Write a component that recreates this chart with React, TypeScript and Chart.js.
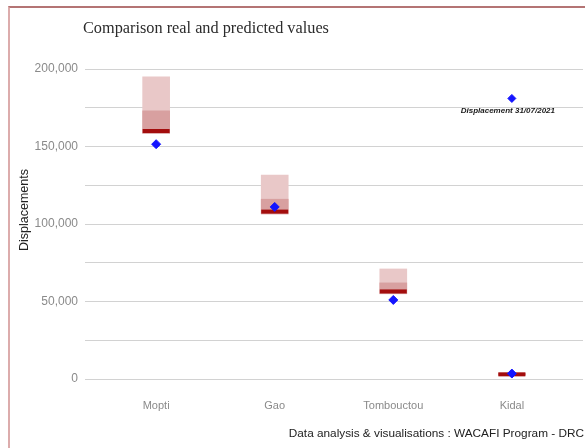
import React, { useEffect, useRef } from 'react';
import { Chart, registerables } from 'chart.js';

Chart.register(...registerables);

const categories = ['Mopti', 'Gao', 'Tombouctou', 'Kidal'];
const predLow = [158500, 106500, 55000, 2500];
const predHigh = [195000, 131500, 71000, 4000];
const predInnerHigh = [173000, 116000, 62000, 3500];
const predMedian = [160000, 108000, 56500, 3000];
const realValues = [151500, 111000, 51000, 3500];
const yMin = 0;
const yMax = 200000;
const yStep = 25000;
const yLabelStep = 50000;
const legendLabel = 'Displacement 31/07/2021';
const legendCategoryIndex = 3;
const legendValue = 181000;
const titleText = 'Comparison real and predicted values';
const footerText = 'Data analysis & visualisations : WACAFI Program - DRC';
const yAxisTitle = 'Displacements';

const SANS = '"Liberation Sans", Arial, sans-serif';
const SERIF = '"Liberation Serif", "Times New Roman", serif';

const textPlugin = {
  id: 'textPlugin',
  afterDraw(chart: any) {
    const ctx = chart.ctx as CanvasRenderingContext2D;
    ctx.save();
    ctx.fillStyle = '#2b2b2b';
    ctx.font = '16.3px ' + SERIF;
    ctx.textAlign = 'left';
    ctx.textBaseline = 'middle';
    ctx.fillText(titleText, 83, 29);

    ctx.font = '11.8px ' + SANS;
    ctx.textAlign = 'right';
    ctx.fillStyle = '#222';
    ctx.fillText(footerText, 584, 434);

    const meta = chart.getDatasetMeta(4);
    const pt = meta && meta.data && meta.data[0];
    if (pt) {
      ctx.font = 'italic bold 8px ' + SANS;
      ctx.textAlign = 'center';
      ctx.fillStyle = '#1a1a1a';
      ctx.fillText(legendLabel, pt.x - 4, pt.y + 12);
    }

    ctx.translate(25, 210);
    ctx.rotate(-Math.PI / 2);
    ctx.font = '12.5px ' + SANS;
    ctx.textAlign = 'center';
    ctx.fillStyle = '#222';
    ctx.fillText(yAxisTitle, 0, 0);
    ctx.restore();
  },
};

export default function App() {
  const canvasRef = useRef<HTMLCanvasElement | null>(null);

  useEffect(() => {
    if (!canvasRef.current) return;
    const chart = new Chart(canvasRef.current, {
      type: 'bar',
      data: {
        datasets: [
          {
            type: 'scatter',
            label: 'Real',
            data: realValues.map((y, i) => ({ x: i, y })),
            pointStyle: 'rectRot',
            pointRadius: 4.5,
            backgroundColor: '#1414ff',
            borderColor: '#1414ff',
            borderWidth: 1,
            order: 0,
          } as any,
          {
            type: 'scatter',
            label: 'Median',
            data: predMedian.map((y, i) => ({ x: i, y })),
            pointStyle: 'line',
            pointRadius: 13.5,
            borderWidth: 4,
            borderColor: '#a30d0d',
            backgroundColor: '#a30d0d',
            order: 1,
          } as any,
          {
            type: 'bar',
            label: 'Inner',
            data: predInnerHigh.map((h, i) => ({ x: i, y: [predLow[i], h] })),
            backgroundColor: '#d8a0a0',
            borderWidth: 0,
            barThickness: 27,
            grouped: false,
            order: 2,
          } as any,
          {
            type: 'bar',
            label: 'Range',
            data: predHigh.map((h, i) => ({ x: i, y: [predLow[i], h] })),
            backgroundColor: '#e9c8c8',
            borderWidth: 0,
            barThickness: 27,
            grouped: false,
            order: 3,
          } as any,
          {
            type: 'scatter',
            label: legendLabel,
            data: [{ x: legendCategoryIndex, y: legendValue }],
            pointStyle: 'rectRot',
            pointRadius: 4,
            backgroundColor: '#1414ff',
            borderColor: '#1414ff',
            borderWidth: 1,
            order: 0,
          } as any,
        ],
      },
      options: {
        animation: false,
        responsive: false,
        events: [],
        layout: { autoPadding: false, padding: { left: 0, right: 2, top: 69, bottom: 0 } },
        plugins: {
          legend: { display: false },
          tooltip: { enabled: false },
          title: { display: false },
        },
        scales: {
          x: {
            type: 'linear',
            offset: false,
            min: -0.6,
            max: 3.6,
            afterBuildTicks: (axis: any) => {
              axis.ticks = categories.map((_, i) => ({ value: i }));
            },
            afterFit: (scale: any) => {
              scale.height = 69;
              scale.paddingLeft = 0;
              scale.paddingRight = 0;
            },
            grid: { display: false, drawTicks: false, offset: false },
            border: { display: false },
            ticks: {
              autoSkip: false,
              maxRotation: 0,
              padding: 20,
              color: '#8a8a8a',
              font: { family: SANS, size: 11 },
              callback: (v: any) => categories[v] ?? '',
            },
          },
          y: {
            type: 'linear',
            min: yMin,
            max: yMax,
            afterFit: (scale: any) => {
              scale.width = 85;
            },
            grid: { color: '#d2d2d2', lineWidth: 1, drawTicks: false },
            border: { display: false },
            ticks: {
              stepSize: yStep,
              padding: 7,
              color: '#8a8a8a',
              font: { family: SANS, size: 12 },
              callback: (v: any) =>
                Number(v) % yLabelStep === 0 ? Number(v).toLocaleString('en-US') : '',
            },
          },
        },
      },
      plugins: [textPlugin],
    });
    return () => chart.destroy();
  }, []);

  return (
    <div
      style={{
        position: 'fixed',
        left: 0,
        top: 0,
        width: 585,
        height: 448,
        overflow: 'hidden',
        background: '#ffffff',
      }}
    >
      <div
        style={{
          position: 'absolute',
          left: 8,
          top: 6,
          width: 620,
          height: 480,
          borderTop: '2px solid #b47474',
          borderLeft: '2px solid #dcacac',
        }}
      />
      <canvas
        ref={canvasRef}
        width={585}
        height={448}
        style={{ position: 'absolute', left: 0, top: 0, width: 585, height: 448 }}
      />
    </div>
  );
}
